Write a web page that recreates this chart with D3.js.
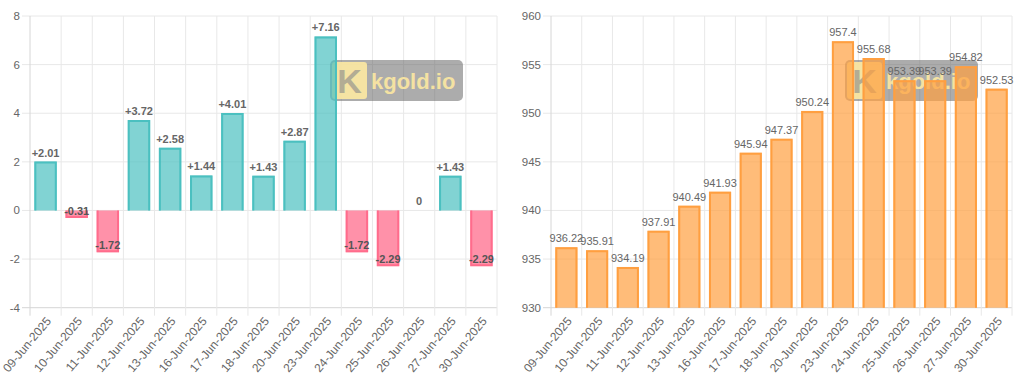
<!DOCTYPE html>
<html>
<head>
<meta charset="utf-8">
<script src="https://cdn.jsdelivr.net/npm/d3@7"></script>
<style>
  html, body { margin: 0; padding: 0; background: #fff; }
  svg { display: block; font-family: "Liberation Sans", Arial, sans-serif; }
</style>
</head>
<body>
<div class="charts"></div>
<script>
const dates = ['09-Jun-2025', '10-Jun-2025', '11-Jun-2025', '12-Jun-2025', '13-Jun-2025',
  '16-Jun-2025', '17-Jun-2025', '18-Jun-2025', '20-Jun-2025', '23-Jun-2025',
  '24-Jun-2025', '25-Jun-2025', '26-Jun-2025', '27-Jun-2025', '30-Jun-2025'];
const changes = [2.01, -0.31, -1.72, 3.72, 2.58, 1.44, 4.01, 1.43, 2.87, 7.16, -1.72, -2.29, 0, 1.43, -2.29];
const prices = [936.22, 935.91, 934.19, 937.91, 940.49, 941.93, 945.94, 947.37, 950.24, 957.4,
  955.68, 953.39, 953.39, 954.82, 952.53];
const changeTicks = [-4, -2, 0, 2, 4, 6, 8];
const priceTicks = [930, 935, 940, 945, 950, 955, 960];

function app() {
  const W = 1024;
  const H = 384;
  const TOP = 16;
  const BOTTOM = 307.7;
  const GRID = '#e8e8e8';
  const TEXT = '#666';

  const svg = d3.select('.charts')
    .append('svg')
    .attr('width', W)
    .attr('height', H);

  function watermark(g, x, y) {
    const w = g.append('g').attr('transform', `translate(${x},${y})`);
    w.append('rect')
      .attr('width', 133).attr('height', 41).attr('rx', 5)
      .attr('fill', 'rgba(95,95,95,0.52)');
    w.append('rect')
      .attr('x', 2).attr('y', 2).attr('width', 35).attr('height', 37).attr('rx', 3)
      .attr('fill', '#fbe7a2').attr('opacity', 0.92);
    w.append('text')
      .attr('x', 19.5).attr('y', 33)
      .attr('text-anchor', 'middle')
      .attr('font-size', 34).attr('font-weight', 'bold')
      .attr('fill', '#b3ac94')
      .text('K');
    w.append('text')
      .attr('x', 41).attr('y', 28.5)
      .attr('font-size', 22).attr('font-weight', 'bold')
      .attr('fill', '#fbe7a2').attr('opacity', 0.92)
      .text('kgold.io');
  }

  // one bar chart, Chart.js look
  function barChart(opts) {
    const g = svg.append('g');
    const x = d3.scaleBand().domain(dates).range([opts.left, opts.right]);
    const y = d3.scaleLinear().domain(opts.domain).range([BOTTOM, TOP]);
    const bw = x.bandwidth() * 0.72;

    // horizontal grid + tick marks
    g.selectAll('.hgrid')
      .data(opts.ticks)
      .enter()
      .append('line')
      .attr('x1', opts.left - 8).attr('x2', opts.right)
      .attr('y1', (d) => y(d)).attr('y2', (d) => y(d))
      .attr('stroke', (d) => d === opts.domain[0] ? '#d6d6d6' : GRID)
      .attr('stroke-width', 1);

    // vertical grid at category edges
    const edges = dates.map((d) => x(d)).concat([opts.right]);
    g.selectAll('.vgrid')
      .data(edges)
      .enter()
      .append('line')
      .attr('x1', (d) => d).attr('x2', (d) => d)
      .attr('y1', TOP).attr('y2', BOTTOM + 8)
      .attr('stroke', (d, i) => i === 0 ? '#d6d6d6' : GRID)
      .attr('stroke-width', 1);

    g.selectAll('.ytick')
      .data(opts.ticks)
      .enter()
      .append('text')
      .attr('x', opts.left - 10)
      .attr('y', (d) => y(d))
      .attr('dy', '0.35em')
      .attr('text-anchor', 'end')
      .attr('font-size', 11.5)
      .attr('fill', TEXT)
      .text((d) => d);

    g.selectAll('.xtick')
      .data(dates)
      .enter()
      .append('text')
      .attr('transform', (d) => `translate(${x(d) + x.bandwidth() / 2 + 3},${BOTTOM + 11}) rotate(-50)`)
      .attr('text-anchor', 'end')
      .attr('dy', '0.35em')
      .attr('font-size', 12)
      .attr('fill', TEXT)
      .text((d) => d);

    watermark(g, opts.markX, 60);

    const base = y(opts.base);
    const bars = g.selectAll('.bar')
      .data(opts.values)
      .enter()
      .append('g');

    bars.append('rect')
      .attr('x', (d, i) => x(dates[i]) + (x.bandwidth() - bw) / 2)
      .attr('y', (d) => Math.min(y(d), base))
      .attr('width', bw)
      .attr('height', (d) => Math.abs(y(d) - base))
      .attr('fill', (d) => opts.fill(d));

    // border on three sides, base side skipped
    bars.each(function(d, i) {
      if (d === opts.base) return;
      const x0 = x(dates[i]) + (x.bandwidth() - bw) / 2 + 1;
      const x1 = x0 + bw - 2;
      const yv = d > opts.base ? y(d) + 1 : y(d) - 1;
      d3.select(this).append('path')
        .attr('d', `M${x0},${base}V${yv}H${x1}V${base}`)
        .attr('fill', 'none')
        .attr('stroke', opts.stroke(d))
        .attr('stroke-width', 2);
    });

    bars.append('text')
      .attr('x', (d, i) => x(dates[i]) + x.bandwidth() / 2)
      .attr('y', (d) => (d >= opts.base ? y(d) - 5 : y(d) - 3))
      .attr('text-anchor', 'middle')
      .attr('font-size', 11)
      .attr('font-weight', opts.bold ? 'bold' : 'normal')
      .attr('fill', (d) => d < opts.base ? '#555' : TEXT)
      .text(opts.label);
  }

  barChart({
    left: 30, right: 497, domain: [-4, 8], base: 0, ticks: changeTicks, values: changes,
    markX: 330, bold: true,
    fill: (d) => d < 0 ? 'rgba(255,99,132,0.7)' : 'rgba(75,192,192,0.7)',
    stroke: (d) => d < 0 ? 'rgba(255,99,132,0.8)' : 'rgb(75,192,192)',
    label: (d) => d > 0 ? '+' + d : String(d)
  });

  barChart({
    left: 551, right: 1012, domain: [930, 960], base: 930, ticks: priceTicks, values: prices,
    markX: 845, bold: false,
    fill: () => 'rgba(255,159,64,0.7)',
    stroke: () => 'rgb(255,159,64)',
    label: (d) => String(d)
  });
}

app();
</script>
</body>
</html>
